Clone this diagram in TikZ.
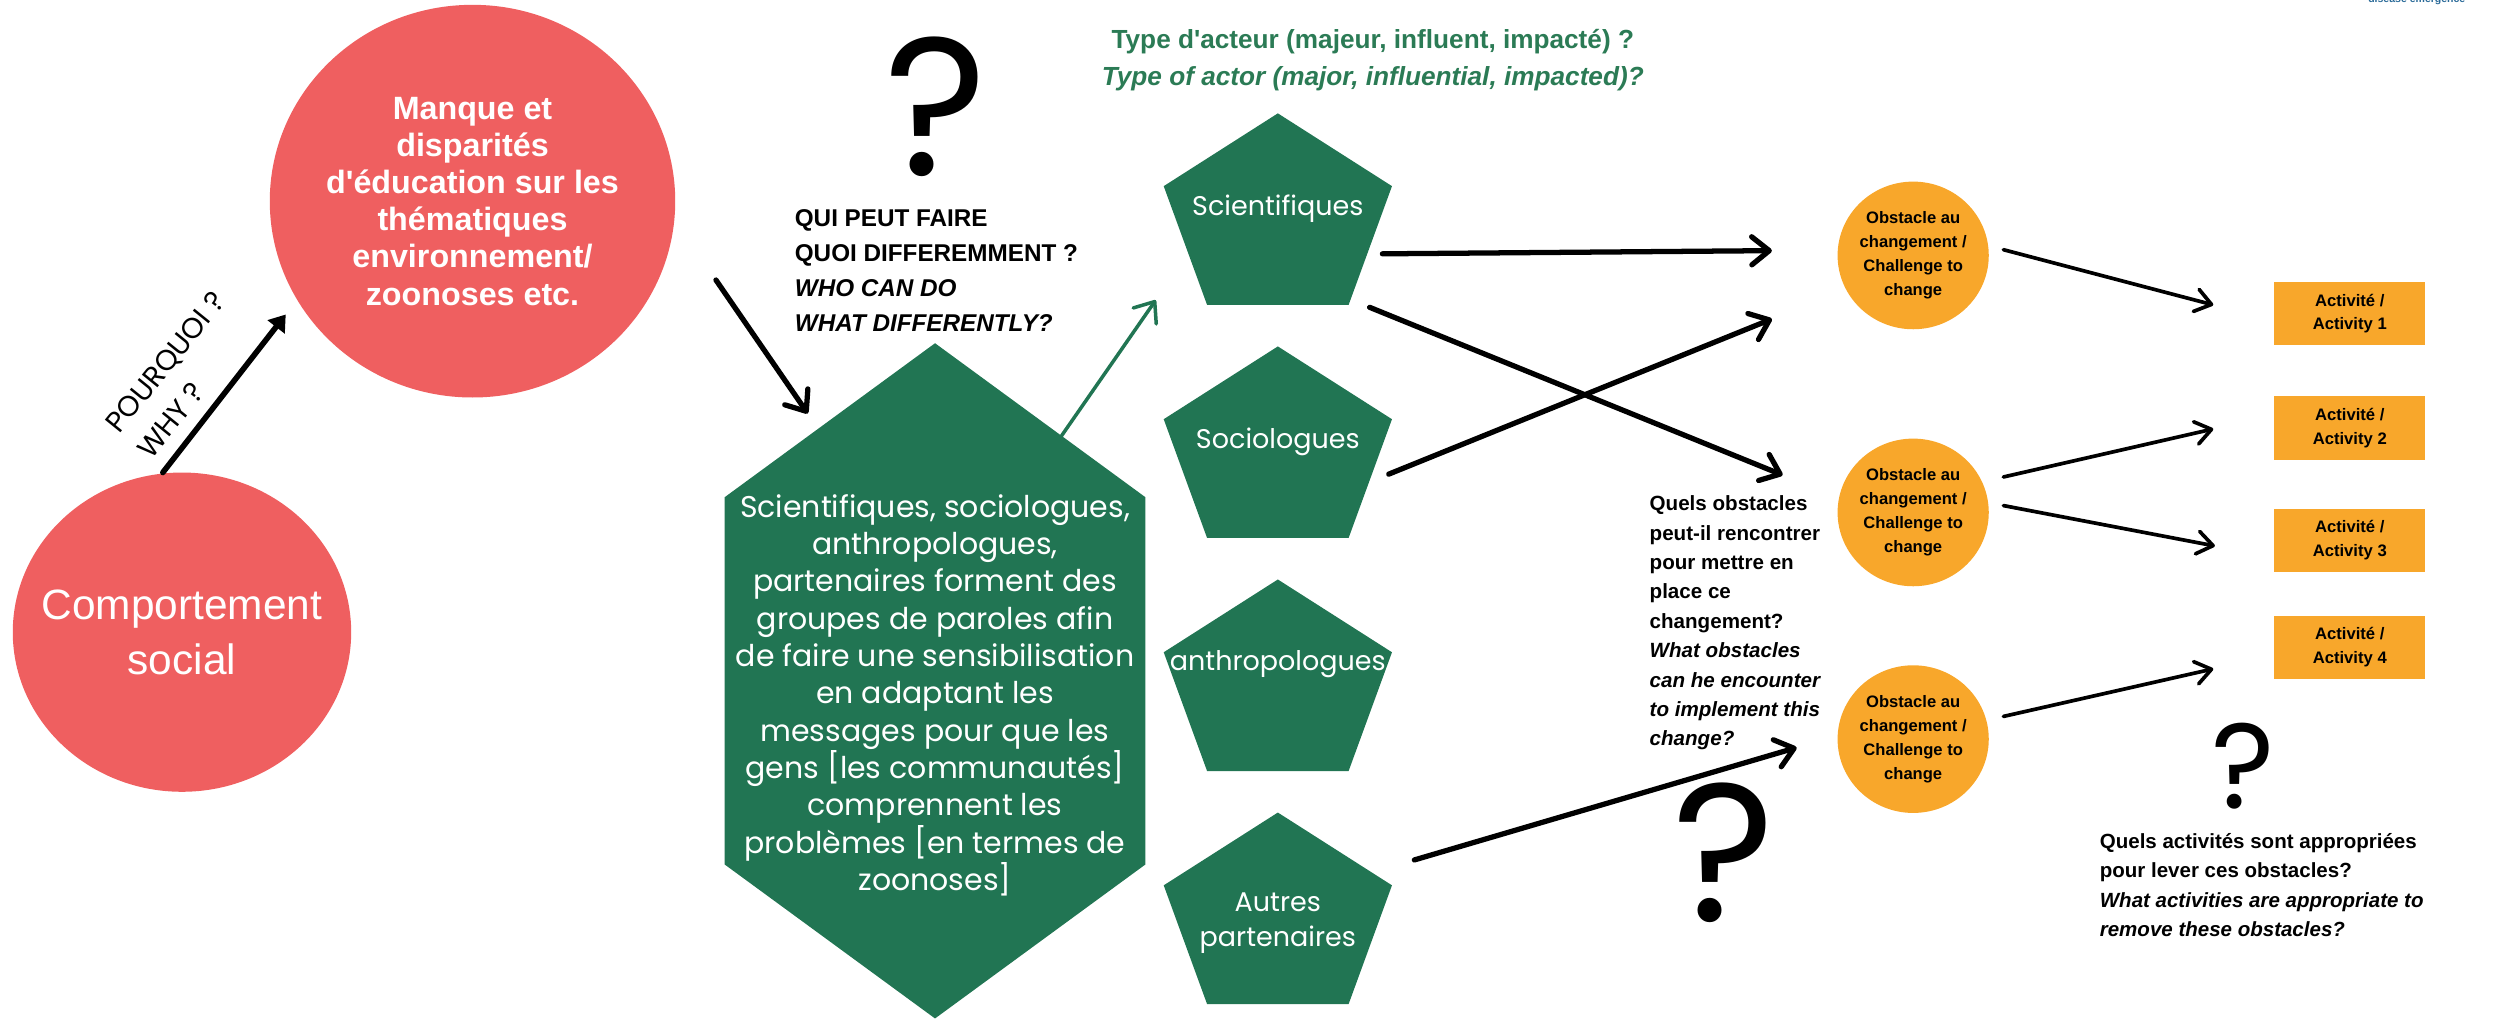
\documentclass[tikz,border=0pt]{standalone}
\usepackage{fontspec}
\setmainfont{Liberation Sans}
\newfontfamily\gothic{Poppins}
\usetikzlibrary{arrows.meta, calc, shapes.geometric}
\definecolor{problemred}{HTML}{EF5F60}
\definecolor{actorgreen}{HTML}{217553}
\definecolor{titlegreen}{HTML}{2B7B55}
\definecolor{obstacleorange}{HTML}{F8A72B}
\definecolor{brandblue}{HTML}{2A6A98}
\tikzset{problem/.style={ellipse, fill=problemred, text=white, inner sep=0pt, align=center}}
\tikzset{actor/.style={minimum width=22.88mm, minimum height=19.2mm, inner sep=0pt,
  text=white, align=center, font=\gothic\fontsize{7.7}{10}\selectfont,
  path picture={\fill[actorgreen] (path picture bounding box.north)
    -- ($(path picture bounding box.north east)!0.38!(path picture bounding box.south east)$)
    -- ($(path picture bounding box.south east)!0.19!(path picture bounding box.south west)$)
    -- ($(path picture bounding box.south west)!0.19!(path picture bounding box.south east)$)
    -- ($(path picture bounding box.north west)!0.38!(path picture bounding box.south west)$)
    -- cycle;}}}
\tikzset{actortext/.style={inner sep=0pt, text=white, align=center, font=\gothic\fontsize{7.7}{10}\selectfont}}
\tikzset{group/.style={minimum width=42.16mm, minimum height=67.68mm, inner sep=0pt,
  path picture={\fill[actorgreen] (path picture bounding box.north)
    -- ($(path picture bounding box.north east)!0.228!(path picture bounding box.south east)$)
    -- ($(path picture bounding box.north east)!0.772!(path picture bounding box.south east)$)
    -- (path picture bounding box.south)
    -- ($(path picture bounding box.north west)!0.772!(path picture bounding box.south west)$)
    -- ($(path picture bounding box.north west)!0.228!(path picture bounding box.south west)$)
    -- cycle;}}}
\tikzset{obstacle/.style={ellipse, fill=obstacleorange, minimum width=14.72mm, minimum height=14.8mm,
  inner sep=0pt, align=center, font=\bfseries\fontsize{4.73}{6.83}\selectfont}}
\tikzset{activity/.style={rectangle, fill=obstacleorange, minimum width=15.12mm, minimum height=6.35mm,
  inner sep=0pt, align=center, font=\bfseries\fontsize{4.75}{6.8}\selectfont}}
\tikzset{note/.style={align=left, inner sep=0pt, anchor=west}}
\tikzset{qmark/.style={inner sep=0pt, font=\gothic\fontsize{56}{56}\selectfont}}
\tikzset{why/.style={-{Triangle[length=4.5pt, width=6pt]}}}
\tikzset{flow/.style={-{Straight Barb[length=5pt, width=8pt, round]}}}
\tikzset{thinflow/.style={line width=1.05pt, -{Straight Barb[length=4.5pt, width=6.5pt, round]}}}

\begin{document}
\begin{tikzpicture}[x=0.16mm, y=-0.16mm]
  \useasboundingbox (0,0) rectangle (1568,639);
  %Nodes
  \node[problem, minimum width=33.92mm, minimum height=32mm, inner xsep=-2.3mm,
    font=\fontsize{12.1}{15.75}\selectfont] (comp) at (114,396) {Comportement\\social};
  \node[problem, minimum width=40.64mm, minimum height=39.36mm, inner xsep=-0.4mm,
    font=\bfseries\fontsize{9.2}{10.6}\selectfont] (lack) at (296,126)
    {Manque et\\disparités\\d\textquotesingle éducation sur les\\thématiques\\environnement/\\zoonoses etc.};
  \node[note, anchor=center, rotate=51, font=\gothic\fontsize{8.2}{11.7}\selectfont] (whylbl)
    at (113.5,235) {POURQUOI ?\\WHY ?};
  \node[qmark] (q1) at (586.5,67) {?};
  \node[note, font=\bfseries\fontsize{6.92}{9.97}\selectfont] (who) at (497.5,169.4)
    {QUI PEUT FAIRE\\QUOI DIFFEREMMENT ?\\\textit{WHO CAN DO}\\\textit{WHAT DIFFERENTLY?}};
  \node[align=center, inner sep=0pt, text=titlegreen, font=\bfseries\fontsize{7.47}{10.5}\selectfont]
    (kind) at (860,37.5)
    {Type d\textquotesingle acteur (majeur, influent, impacté) ?\\\textit{Type of actor (major, influential, impacted)?}};
  \node[group] (grp) at (585.75,426.5) {};
  \node[actortext, font=\gothic\fontsize{8.55}{10.65}\selectfont] (grptext) at ($(grp)+(0,9)$)
    {Scientifiques, sociologues,\\anthropologues,\\partenaires forment des\\groupes de paroles afin\\de faire une sensibilisation\\en adaptant les\\messages pour que les\\gens [les communautés]\\comprennent les\\problèmes [en termes de\\zoonoses]};
  \node[actor] (sci) at (800.5,131) {Scientifiques};
  \node[actor] (soc) at (800.5,277) {Sociologues};
  \node[actor] (ant) at (800.5,423) {};
  \node[actortext] (anttext) at ($(ant)+(0,-7)$) {anthropologues};
  \node[actor] (aut) at (800.5,569) {};
  \node[actortext] (auttext) at ($(aut)+(0,9)$) {Autres\\partenaires};
  \node[obstacle] (obs1) at (1198.5,160) {Obstacle au\\changement /\\Challenge to\\change};
  \node[obstacle] (obs2) at (1198.5,321) {Obstacle au\\changement /\\Challenge to\\change};
  \node[obstacle] (obs3) at (1198.5,463) {Obstacle au\\changement /\\Challenge to\\change};
  \node[note, font=\bfseries\fontsize{5.87}{8.38}\selectfont] (hurdle) at (1033,390.3)
    {Quels obstacles\\peut-il rencontrer\\pour mettre en\\place ce\\changement?\\\textit{What obstacles}\\\textit{can he encounter}\\\textit{to implement this}\\\textit{change?}};
  \node[qmark] (q2) at (1080,534) {?};
  \node[activity] (act1) at (1472,196.5) {Activité /\\Activity 1};
  \node[activity] (act2) at (1472,268) {Activité /\\Activity 2};
  \node[activity] (act3) at (1472,338.5) {Activité /\\Activity 3};
  \node[activity] (act4) at (1472,405.5) {Activité /\\Activity 4};
  \node[qmark, font=\gothic\fontsize{34.5}{34.5}\selectfont] (q3) at (1405,480) {?};
  \node[note, font=\bfseries\fontsize{5.85}{8.33}\selectfont] (remedy) at (1315,554.5)
    {Quels activités sont appropriées\\pour lever ces obstacles?\\\textit{What activities are appropriate to}\\\textit{remove these obstacles?}};
  \node[anchor=base, inner sep=0pt, text=brandblue, font=\bfseries\fontsize{3}{3}\selectfont]
    (tag) at (1514,1.5) {disease emergence};
  % Edges
  \begin{scope}[every edge/.style={draw=black, line width=1.5pt, line cap=round}]
    \draw ($(comp)+(-12,-100)$) edge[why, line width=1.6pt] ($(lack)+(-117,71)$);
    \draw ($(lack)+(152.5,49.4)$) edge[flow] ($(grp)+(-79.75,-167.5)$);
    \draw ($(grp)+(79.25,-153.5)$) edge[flow, draw=actorgreen, line width=1pt] ($(sci)+(-76.5,57)$);
    \draw ($(sci)+(65.5,28)$) edge[flow] ($(obs1)+(-88.5,-3)$);
    \draw ($(sci)+(57.5,61.5)$) edge[flow] ($(obs2)+(-81.8,-23.4)$);
    \draw ($(soc)+(69.5,20)$) edge[flow] ($(obs1)+(-88.5,39.8)$);
    \draw ($(aut)+(85.5,-30.3)$) edge[flow] ($(obs3)+(-73,5.3)$);
    \draw ($(obs1)+(56.5,-3.6)$) edge[thinflow] ($(act1)+(-85.5,-5.5)$);
    \draw ($(obs2)+(56.5,-22.2)$) edge[thinflow] ($(act2)+(-85.5,0.7)$);
    \draw ($(obs2)+(56.5,-4.3)$) edge[thinflow] ($(act3)+(-84.5,3.5)$);
    \draw ($(obs3)+(56.5,-14.2)$) edge[thinflow] ($(act4)+(-85.5,13.5)$);
  \end{scope}
\end{tikzpicture}
\end{document}
